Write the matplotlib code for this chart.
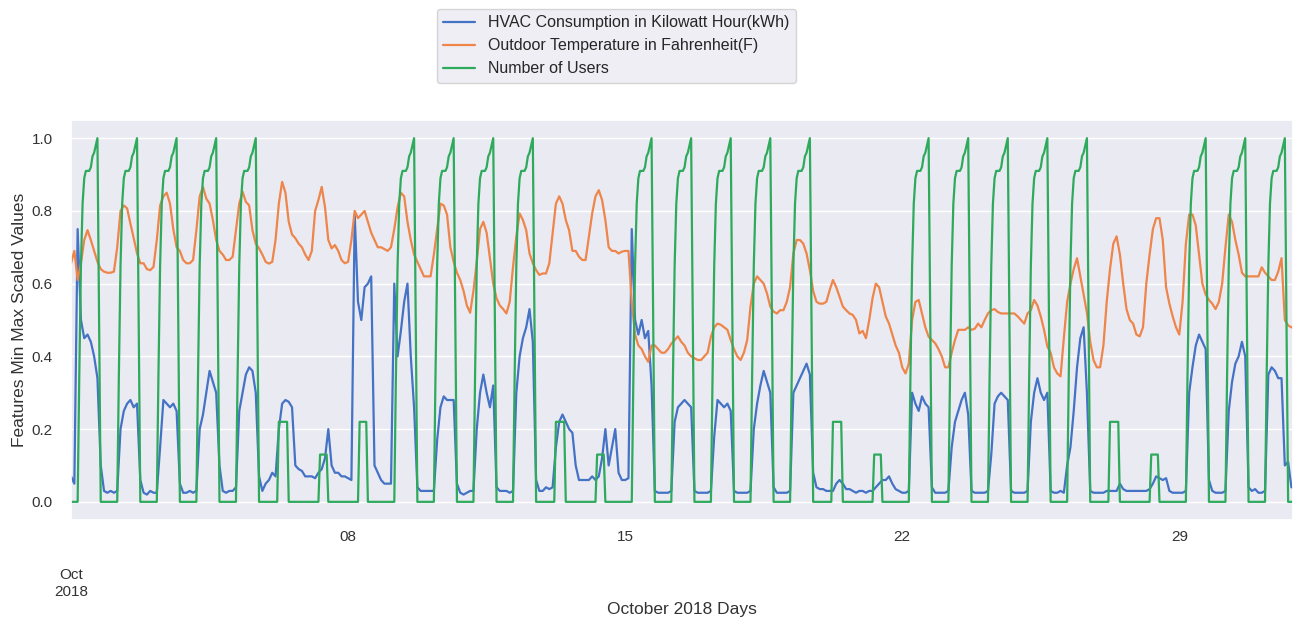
import pandas as pd
import matplotlib
matplotlib.use("Agg")
import matplotlib.pyplot as plt
import seaborn as sns

# HVAC consumption, min-max scaled, one row per day (values every 2 hours, 00h..22h)
hvac_kwh = [
    [0.07, 0.05, 0.75, 0.50, 0.45, 0.46, 0.44, 0.40, 0.34, 0.10, 0.03, 0.025],   # 01
    [0.03, 0.025, 0.03, 0.20, 0.25, 0.27, 0.28, 0.26, 0.27, 0.06, 0.025, 0.02],  # 02
    [0.03, 0.025, 0.025, 0.15, 0.28, 0.27, 0.26, 0.27, 0.25, 0.05, 0.025, 0.025],
    [0.03, 0.025, 0.03, 0.20, 0.24, 0.30, 0.36, 0.33, 0.30, 0.10, 0.03, 0.025],
    [0.03, 0.03, 0.04, 0.25, 0.30, 0.35, 0.37, 0.36, 0.30, 0.07, 0.03, 0.05],    # 05
    [0.06, 0.08, 0.07, 0.20, 0.27, 0.28, 0.275, 0.26, 0.10, 0.09, 0.085, 0.07],
    [0.07, 0.07, 0.065, 0.08, 0.09, 0.12, 0.20, 0.10, 0.08, 0.08, 0.07, 0.07],
    [0.065, 0.06, 0.79, 0.55, 0.50, 0.59, 0.60, 0.62, 0.10, 0.08, 0.06, 0.05],   # 08
    [0.05, 0.05, 0.60, 0.40, 0.47, 0.55, 0.60, 0.40, 0.26, 0.04, 0.03, 0.03],
    [0.03, 0.03, 0.03, 0.17, 0.26, 0.29, 0.28, 0.28, 0.28, 0.05, 0.025, 0.02],   # 10
    [0.025, 0.03, 0.03, 0.20, 0.30, 0.35, 0.30, 0.26, 0.32, 0.04, 0.03, 0.03],
    [0.03, 0.025, 0.03, 0.30, 0.40, 0.45, 0.48, 0.53, 0.44, 0.06, 0.03, 0.03],
    [0.04, 0.035, 0.04, 0.15, 0.22, 0.24, 0.22, 0.20, 0.19, 0.10, 0.06, 0.06],
    [0.06, 0.06, 0.07, 0.06, 0.07, 0.12, 0.20, 0.10, 0.15, 0.20, 0.08, 0.06],
    [0.06, 0.065, 0.75, 0.50, 0.46, 0.50, 0.45, 0.47, 0.32, 0.03, 0.025, 0.025],  # 15
    [0.025, 0.025, 0.03, 0.22, 0.26, 0.27, 0.28, 0.27, 0.26, 0.03, 0.025, 0.025],
    [0.025, 0.025, 0.03, 0.18, 0.28, 0.27, 0.26, 0.27, 0.25, 0.03, 0.025, 0.025],
    [0.025, 0.025, 0.03, 0.20, 0.27, 0.32, 0.36, 0.33, 0.30, 0.04, 0.025, 0.025],
    [0.025, 0.025, 0.03, 0.30, 0.32, 0.34, 0.36, 0.38, 0.35, 0.08, 0.04, 0.035],
    [0.035, 0.03, 0.03, 0.03, 0.05, 0.06, 0.05, 0.035, 0.035, 0.03, 0.025, 0.03],  # 20
    [0.03, 0.025, 0.03, 0.03, 0.04, 0.05, 0.06, 0.06, 0.07, 0.05, 0.035, 0.03],
    [0.025, 0.025, 0.03, 0.30, 0.27, 0.25, 0.29, 0.27, 0.26, 0.04, 0.025, 0.025],  # 22
    [0.025, 0.025, 0.03, 0.15, 0.22, 0.25, 0.28, 0.30, 0.24, 0.03, 0.025, 0.025],
    [0.025, 0.025, 0.03, 0.13, 0.27, 0.29, 0.30, 0.29, 0.28, 0.03, 0.025, 0.025],
    [0.025, 0.025, 0.03, 0.22, 0.30, 0.34, 0.30, 0.28, 0.30, 0.03, 0.025, 0.025],
    [0.03, 0.025, 0.10, 0.15, 0.25, 0.37, 0.45, 0.48, 0.30, 0.03, 0.025, 0.025],
    [0.025, 0.025, 0.03, 0.03, 0.03, 0.03, 0.05, 0.035, 0.03, 0.03, 0.03, 0.03],
    [0.03, 0.03, 0.03, 0.035, 0.05, 0.07, 0.065, 0.06, 0.065, 0.03, 0.025, 0.025],
    [0.025, 0.025, 0.03, 0.30, 0.37, 0.43, 0.46, 0.44, 0.42, 0.06, 0.03, 0.025],  # 29
    [0.025, 0.025, 0.03, 0.25, 0.33, 0.38, 0.40, 0.44, 0.40, 0.04, 0.03, 0.035],
    [0.025, 0.025, 0.03, 0.35, 0.37, 0.36, 0.34, 0.34, 0.10, 0.11, 0.04, 0.04],   # 31
]

# outdoor temperature, min-max scaled, same layout
outdoor_temp = [
    [0.656, 0.69, 0.61, 0.656, 0.72, 0.747, 0.72, 0.69, 0.66, 0.64, 0.633, 0.63],
    [0.63, 0.633, 0.70, 0.80, 0.815, 0.807, 0.765, 0.725, 0.683, 0.656, 0.656, 0.64],
    [0.637, 0.646, 0.72, 0.815, 0.84, 0.85, 0.82, 0.75, 0.70, 0.69, 0.665, 0.656],
    [0.656, 0.665, 0.747, 0.84, 0.866, 0.834, 0.82, 0.775, 0.72, 0.69, 0.68, 0.665],
    [0.665, 0.674, 0.747, 0.82, 0.853, 0.825, 0.815, 0.747, 0.71, 0.697, 0.68, 0.66],
    [0.655, 0.66, 0.72, 0.82, 0.88, 0.85, 0.77, 0.735, 0.725, 0.71, 0.70, 0.68],
    [0.665, 0.69, 0.80, 0.83, 0.866, 0.81, 0.72, 0.697, 0.706, 0.69, 0.665, 0.656],
    [0.66, 0.72, 0.80, 0.78, 0.79, 0.80, 0.77, 0.74, 0.72, 0.70, 0.70, 0.695],
    [0.69, 0.70, 0.75, 0.81, 0.85, 0.84, 0.77, 0.72, 0.68, 0.66, 0.64, 0.62],
    [0.62, 0.62, 0.68, 0.75, 0.82, 0.815, 0.79, 0.70, 0.66, 0.63, 0.61, 0.58],
    [0.54, 0.52, 0.58, 0.66, 0.75, 0.77, 0.74, 0.67, 0.60, 0.56, 0.54, 0.53],
    [0.518, 0.55, 0.646, 0.73, 0.793, 0.775, 0.747, 0.683, 0.656, 0.637, 0.624, 0.628],
    [0.628, 0.656, 0.738, 0.82, 0.84, 0.82, 0.775, 0.747, 0.69, 0.69, 0.674, 0.665],
    [0.665, 0.73, 0.793, 0.84, 0.857, 0.83, 0.775, 0.70, 0.69, 0.69, 0.683, 0.688],
    [0.69, 0.69, 0.55, 0.46, 0.43, 0.42, 0.40, 0.385, 0.43, 0.43, 0.42, 0.41],
    [0.41, 0.42, 0.435, 0.445, 0.455, 0.44, 0.43, 0.41, 0.40, 0.395, 0.39, 0.39],
    [0.40, 0.41, 0.454, 0.48, 0.49, 0.487, 0.48, 0.473, 0.445, 0.42, 0.40, 0.39],
    [0.41, 0.445, 0.537, 0.60, 0.62, 0.61, 0.60, 0.573, 0.537, 0.523, 0.518, 0.527],
    [0.527, 0.55, 0.59, 0.683, 0.72, 0.72, 0.71, 0.683, 0.637, 0.58, 0.55, 0.545],
    [0.545, 0.55, 0.582, 0.61, 0.59, 0.564, 0.537, 0.527, 0.518, 0.514, 0.50, 0.463],
    [0.47, 0.45, 0.50, 0.56, 0.60, 0.59, 0.55, 0.51, 0.49, 0.46, 0.43, 0.41],
    [0.37, 0.353, 0.38, 0.50, 0.55, 0.555, 0.518, 0.48, 0.454, 0.445, 0.436, 0.42],
    [0.40, 0.37, 0.37, 0.41, 0.445, 0.473, 0.473, 0.473, 0.48, 0.473, 0.476, 0.49],
    [0.48, 0.50, 0.518, 0.527, 0.53, 0.522, 0.518, 0.518, 0.518, 0.518, 0.518, 0.51],
    [0.50, 0.49, 0.518, 0.527, 0.555, 0.54, 0.51, 0.473, 0.427, 0.41, 0.37, 0.353],
    [0.345, 0.45, 0.55, 0.60, 0.64, 0.67, 0.62, 0.57, 0.52, 0.44, 0.39, 0.37],
    [0.37, 0.43, 0.55, 0.64, 0.71, 0.73, 0.68, 0.60, 0.53, 0.50, 0.49, 0.46],
    [0.455, 0.48, 0.60, 0.68, 0.75, 0.78, 0.78, 0.72, 0.59, 0.545, 0.51, 0.48],
    [0.46, 0.55, 0.71, 0.79, 0.79, 0.76, 0.68, 0.60, 0.57, 0.555, 0.545, 0.53],
    [0.55, 0.60, 0.70, 0.79, 0.77, 0.72, 0.68, 0.63, 0.62, 0.62, 0.62, 0.62],
    [0.62, 0.645, 0.63, 0.62, 0.61, 0.61, 0.633, 0.67, 0.50, 0.485, 0.48, 0.478],
]

# number of users, hourly profiles (00h..23h) per kind of day
users_weekday = [0, 0, 0, 0, 0, 0.35, 0.65, 0.82, 0.89, 0.91, 0.91, 0.91,
                 0.92, 0.95, 0.96, 0.98, 1.0, 0.5, 0, 0, 0, 0, 0, 0]
users_saturday = [0, 0, 0, 0, 0, 0, 0.22, 0.22, 0.22, 0.22, 0.22, 0.22,
                  0, 0, 0, 0, 0, 0, 0, 0, 0, 0, 0, 0]
users_sunday = [0, 0, 0, 0, 0, 0, 0, 0.13, 0.13, 0.13, 0.13, 0.13,
                0, 0, 0, 0, 0, 0, 0, 0, 0, 0, 0, 0]
users_holiday = [0, 0, 0, 0, 0, 0, 0, 0.22, 0.22, 0.22, 0.22, 0.22,
                 0, 0, 0, 0, 0, 0, 0, 0, 0, 0, 0, 0]
day_kind = ["wd", "wd", "wd", "wd", "wd", "sat", "sun",
            "hol", "wd", "wd", "wd", "wd", "sat", "sun",
            "wd", "wd", "wd", "wd", "wd", "sat", "sun",
            "wd", "wd", "wd", "wd", "wd", "sat", "sun",
            "wd", "wd", "wd"]

minor_days = ["2018-10-08", "2018-10-15", "2018-10-22", "2018-10-29"]
minor_labels = ["08", "15", "22", "29"]

profiles = {"wd": users_weekday, "sat": users_saturday,
            "sun": users_sunday, "hol": users_holiday}
users = [v for k in day_kind for v in profiles[k]]
hvac = [v for day in hvac_kwh for v in day]
temp = [v for day in outdoor_temp for v in day]

hours = pd.date_range("2018-10-01", periods=len(users), freq="h")
two_hours = pd.date_range("2018-10-01", periods=len(hvac), freq="2h")

sns.set_theme(style="darkgrid")
plt.rcParams["font.family"] = ["Liberation Sans", "DejaVu Sans"]

fig = plt.figure(figsize=(13.06, 6.23), dpi=100)
ax = fig.add_axes([0.0544, 0.1653, 0.9357, 0.6421])

ax.plot(two_hours, hvac, color="#4472c4", lw=1.6, label="HVAC Consumption in Kilowatt Hour(kWh)")
ax.plot(two_hours, temp, color="#ee854a", lw=1.6, label="Outdoor Temperature in Fahrenheit(F)")
ax.plot(hours, users, color="#2eaa5c", lw=1.6, label="Number of Users")

ax.set_xlim(pd.Timestamp("2018-10-01 00:00"), pd.Timestamp("2018-10-31 21:00"))
ax.set_ylim(-0.05, 1.05)
ax.set_yticks([0.0, 0.2, 0.4, 0.6, 0.8, 1.0])
ax.set_yticklabels(["0.0", "0.2", "0.4", "0.6", "0.8", "1.0"])

ax.set_xticks([pd.Timestamp("2018-10-01")])
ax.set_xticklabels(["\n\nOct\n2018"])
ax.set_xticks([pd.Timestamp(d) for d in minor_days], minor=True)
ax.set_xticklabels(minor_labels, minor=True)
ax.grid(False, axis="x")

ax.tick_params(axis="x", which="minor", length=0, pad=7, labelsize=11, colors="#333333")
ax.tick_params(axis="x", which="major", length=0, pad=11.5, labelsize=11, colors="#333333")
ax.tick_params(axis="y", length=0, pad=13, labelsize=11, colors="#333333")

ax.set_xlabel("October 2018 Days", fontsize=12.5, color="#333333")
ax.set_ylabel("Features Min Max Scaled Values", fontsize=12.5, color="#333333")
ax.xaxis.set_label_coords(0.5, -0.205)
ax.yaxis.set_label_coords(-0.036, 0.5)

fig.legend(loc="lower center", bbox_to_anchor=(0.472, 0.867), borderaxespad=0, fontsize=11.5)

fig.savefig("out.png", dpi=100)
